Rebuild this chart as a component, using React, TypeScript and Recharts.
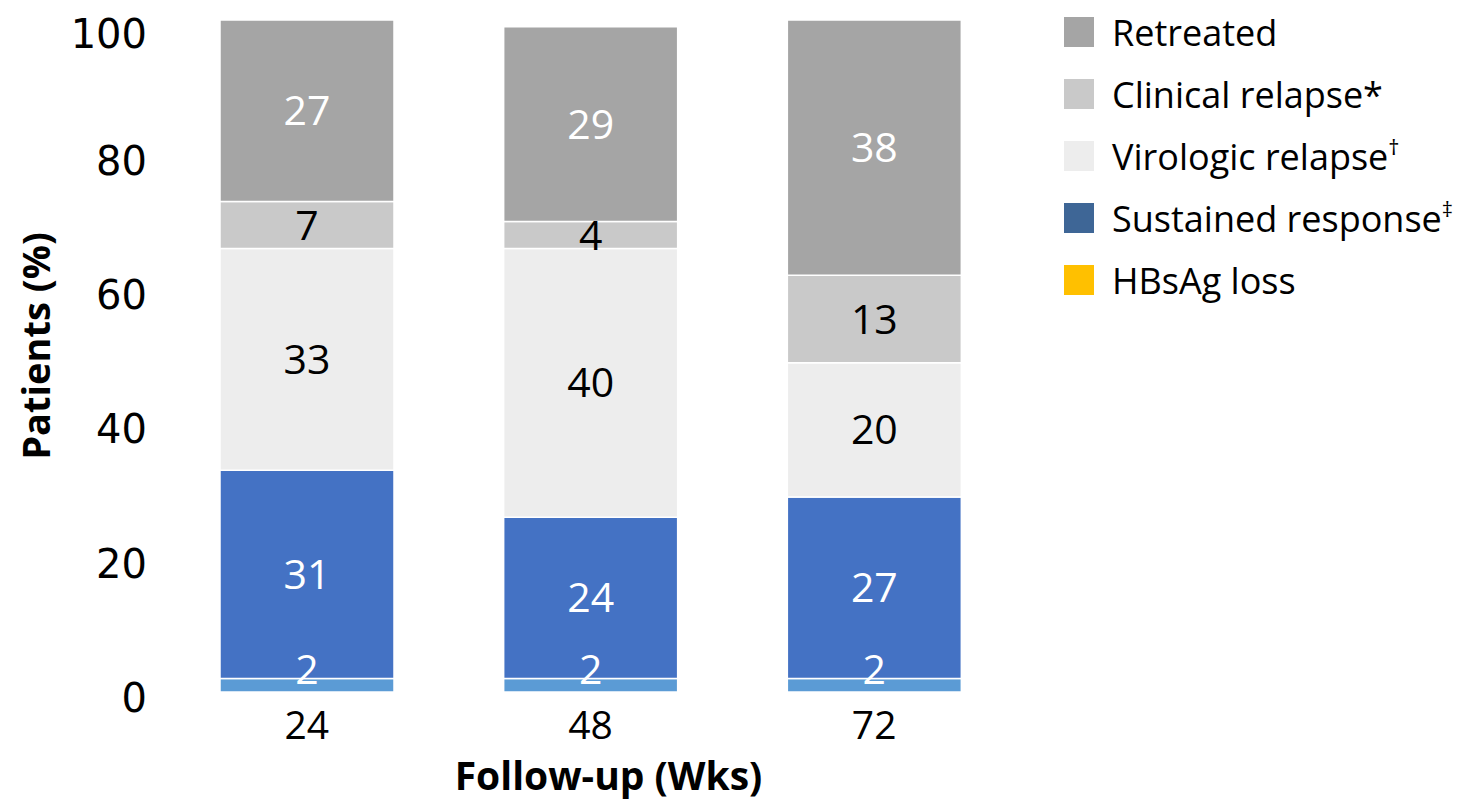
import React from "react";
import { Bar, BarChart, LabelList, Legend, XAxis, YAxis } from "recharts";

const weeks = ["24", "48", "72"];
const hbsagLoss = [2, 2, 2];
const sustainedResponse = [31, 24, 27];
const virologicRelapse = [33, 40, 20];
const clinicalRelapse = [7, 4, 13];
const retreated = [27, 29, 38];

const yTicks = [0, 20, 40, 60, 80, 100];

const data = weeks.map((week, i) => ({
  week,
  hbsag: hbsagLoss[i],
  sustained: sustainedResponse[i],
  virologic: virologicRelapse[i],
  clinical: clinicalRelapse[i],
  retreated: retreated[i],
}));

const FONT = "'Open Sans', Lato, sans-serif";

const legendItems = [
  { label: "Retreated", sup: "", color: "#A5A5A5" },
  { label: "Clinical relapse*", sup: "", color: "#C9C9C9" },
  { label: "Virologic relapse", sup: "†", color: "#EDEDED" },
  { label: "Sustained response", sup: "‡", color: "#3E6696" },
  { label: "HBsAg loss", sup: "", color: "#FFC000" },
];

const renderLegend = () => (
  <div style={{ fontFamily: FONT, fontSize: 36, color: "#000" }}>
    {legendItems.map((item) => (
      <div
        key={item.label}
        style={{ display: "flex", alignItems: "center", height: 62 }}
      >
        <span
          style={{
            width: 30,
            height: 30,
            background: item.color,
            marginRight: 18,
            display: "inline-block",
            flexShrink: 0,
          }}
        />
        <span style={{ whiteSpace: "nowrap" }}>
          {item.label}
          {item.sup && (
            <sup style={{ fontSize: 22, verticalAlign: 15 }}>{item.sup}</sup>
          )}
        </span>
      </div>
    ))}
  </div>
);

const labelStyle = { fontFamily: FONT, fontSize: 41 };

export default function App() {
  return (
    <div style={{ position: "absolute", left: 0, top: 0 }}>
      <BarChart
        width={1465}
        height={803}
        data={data}
        margin={{ top: 20, right: 449, bottom: 0, left: 20 }}
        barSize={174}
      >
        <XAxis
          dataKey="week"
          height={111}
          axisLine={false}
          tickLine={false}
          tickSize={0}
          tickMargin={19}
          tick={{ fontFamily: FONT, fontSize: 39, fill: "#000" }}
          label={{
            content: ({ viewBox }: any) => (
              <text
                x={viewBox.x + viewBox.width / 2 + 18}
                y={viewBox.y + 98}
                textAnchor="middle"
                fontFamily={FONT}
                fontWeight={700}
                fontSize={39}
                fill="#000"
              >
                Follow-up (Wks)
              </text>
            ),
          }}
        />
        <YAxis
          width={145}
          domain={[0, 100]}
          ticks={yTicks}
          axisLine={false}
          tickLine={false}
          tickSize={0}
          tickMargin={18}
          tick={{ fontFamily: "'DejaVu Sans', sans-serif", fontSize: 40, fill: "#000", dy: 6 }}
          label={{
            content: ({ viewBox }: any) => {
              const cx = viewBox.x + 15;
              const cy = viewBox.y + viewBox.height / 2 - 10;
              return (
                <text
                  x={cx}
                  y={cy}
                  transform={`rotate(-90, ${cx}, ${cy})`}
                  textAnchor="middle"
                  dominantBaseline="central"
                  fontFamily={FONT}
                  fontWeight={700}
                  fontSize={38}
                  fill="#000"
                >
                  Patients (%)
                </text>
              );
            },
          }}
        />
        <Legend
          layout="vertical"
          align="center"
          verticalAlign="middle"
          content={renderLegend}
          wrapperStyle={{ left: 1064, top: 1, width: 400 }}
        />
        <Bar dataKey="hbsag" stackId="a" fill="#5B9BD5" stroke="#fff" strokeWidth={1.5} isAnimationActive={false}>
          <LabelList dataKey="hbsag" position="insideBottom" offset={8} fill="#fff" style={labelStyle} />
        </Bar>
        <Bar dataKey="sustained" stackId="a" fill="#4472C4" stroke="#fff" strokeWidth={1.5} isAnimationActive={false}>
          <LabelList dataKey="sustained" position="center" fill="#fff" style={labelStyle} />
        </Bar>
        <Bar dataKey="virologic" stackId="a" fill="#EDEDED" stroke="#fff" strokeWidth={1.5} isAnimationActive={false}>
          <LabelList dataKey="virologic" position="center" fill="#000" style={labelStyle} />
        </Bar>
        <Bar dataKey="clinical" stackId="a" fill="#C9C9C9" stroke="#fff" strokeWidth={1.5} isAnimationActive={false}>
          <LabelList dataKey="clinical" position="center" fill="#000" style={labelStyle} />
        </Bar>
        <Bar dataKey="retreated" stackId="a" fill="#A5A5A5" stroke="#fff" strokeWidth={1.5} isAnimationActive={false}>
          <LabelList dataKey="retreated" position="center" fill="#fff" style={labelStyle} />
        </Bar>
      </BarChart>
    </div>
  );
}
